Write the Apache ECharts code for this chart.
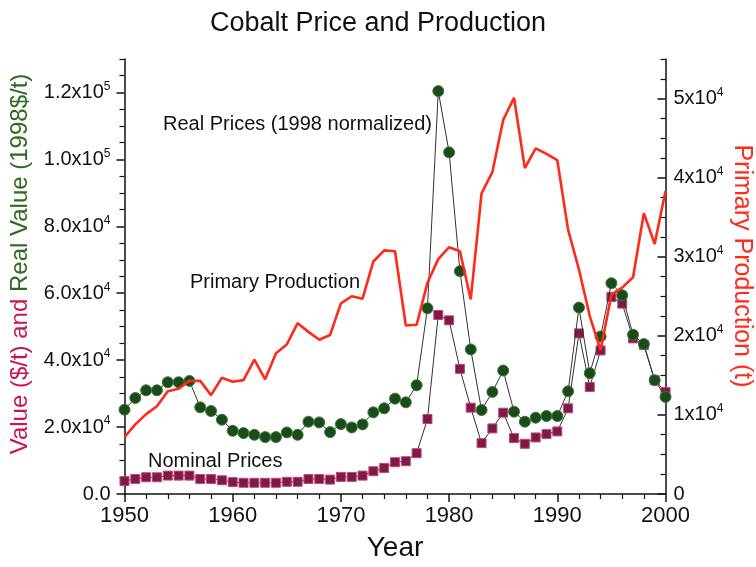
<!DOCTYPE html>
<html>
<head>
<meta charset="utf-8">
<script src="https://cdn.jsdelivr.net/npm/echarts@6/dist/echarts.min.js"></script>
<style>html,body{margin:0;padding:0;background:#fff}#c{width:756px;height:567px}</style>
</head>
<body>
<div id="c"></div>
<script>
const years = [];
for (let y = 1950; y <= 2000; y++) years.push(y);

const realPrices = [25200,28700,31000,31000,33400,33400,33800,25900,24800,22200,
  18900,18200,17700,17000,17000,18400,17700,21600,21400,18500,
  20900,19900,20800,24400,25600,28500,27400,32500,55500,120400,
  102100,66600,43200,25100,30500,36900,24600,21600,22800,23300,
  23300,30700,55700,36100,47100,63000,59400,47600,44800,34000,29000];

const nominalPrices = [3850,4500,5000,5000,5500,5500,5500,4500,4500,4100,
  3550,3350,3350,3350,3350,3650,3650,4500,4500,4300,
  5100,5100,5500,6800,7800,9500,9800,12200,22400,53500,
  51900,37400,25800,15200,19600,24300,16700,15000,16900,17900,
  18700,25600,48000,32000,42900,58900,56900,46500,44500,34000,30500];

const production = [7200,8800,10100,11100,13000,13300,14300,14300,12500,14700,
  14200,14400,17000,14500,17800,18900,21600,20500,19500,20100,
  24100,25000,24700,29400,30800,30700,21300,21400,26700,29700,
  31200,30700,24600,38000,40700,47300,50100,41200,43700,43000,
  42200,33400,28400,22500,18200,25200,26100,27400,35500,31600,38300];

const leftMajor = [0,20000,40000,60000,80000,100000,120000];
const leftMinor = [];
for (let v = 5000; v <= 130000; v += 5000) if (v % 20000 !== 0) leftMinor.push(v);
const rightMajor = [0,10000,20000,30000,40000,50000];
const rightMinor = [];
for (let v = 2500; v <= 55000; v += 2500) if (v % 10000 !== 0) rightMinor.push(v);

const FONT = 'Liberation Sans';
const chart = echarts.init(document.getElementById('c'), null, {renderer: 'canvas'});

function sci(v, dec) {
  if (v === 0) return dec ? '{a|0.0}' : '{a|0}';
  const e = Math.floor(Math.log10(v) + 1e-9);
  const m = v / Math.pow(10, e);
  return '{a|' + (dec ? m.toFixed(1) : String(Math.round(m))) + 'x10}{s|' + e + '}';
}
function richOf(size) {
  return {
    a: {fontSize: size, fontFamily: FONT, color: '#111', lineHeight: size + 4},
    s: {fontSize: Math.round(size * 0.62), fontFamily: FONT, color: '#111', verticalAlign: 'top', lineHeight: 12}
  };
}

const grid = {left: 124.5, right: 90.5, top: 59, bottom: 69};

const option = {
  animation: false,
  backgroundColor: '#fff',
  title: {
    text: 'Cobalt Price and Production',
    left: 'center', top: 5,
    textStyle: {fontFamily: FONT, fontSize: 27, fontWeight: 'normal', color: '#111'}
  },
  grid: grid,
  xAxis: {
    type: 'value', min: 1950, max: 2000, interval: 10,
    name: 'Year', nameLocation: 'middle', nameGap: 40,
    nameTextStyle: {fontFamily: FONT, fontSize: 28, color: '#111'},
    axisLine: {lineStyle: {color: '#111', width: 1.5}},
    axisTick: {length: 8, lineStyle: {color: '#111', width: 1.5}},
    minorTick: {show: true, splitNumber: 5, length: 5, lineStyle: {color: '#111', width: 1.2}},
    axisLabel: {fontFamily: FONT, fontSize: 22, color: '#111', margin: 11, formatter: v => String(v)},
    splitLine: {show: false}
  },
  yAxis: [
    {
      type: 'value', min: 0, max: 130000, position: 'left',
      axisLine: {show: true, lineStyle: {color: '#111', width: 1.5}},
      axisTick: {show: true, length: 8, customValues: leftMajor, lineStyle: {color: '#111', width: 1.5}},
      axisLabel: {customValues: leftMajor, margin: 14, formatter: v => sci(v, true), rich: richOf(20)},
      splitLine: {show: false}
    },
    {
      type: 'value', min: 0, max: 55000, position: 'right',
      axisLine: {show: true, lineStyle: {color: '#111', width: 1.5}},
      axisTick: {show: true, inside: true, length: 8, customValues: rightMajor, lineStyle: {color: '#111', width: 1.5}},
      axisLabel: {customValues: rightMajor, margin: 8, formatter: v => sci(v, false), rich: richOf(20)},
      splitLine: {show: false}
    },
    {
      type: 'value', min: 0, max: 130000, position: 'left',
      axisLine: {show: false},
      axisTick: {show: true, length: 5, customValues: leftMinor, lineStyle: {color: '#111', width: 1.2}},
      axisLabel: {show: false},
      splitLine: {show: false}
    },
    {
      type: 'value', min: 0, max: 55000, position: 'right',
      axisLine: {show: false},
      axisTick: {show: true, inside: true, length: 5, customValues: rightMinor, lineStyle: {color: '#111', width: 1.2}},
      axisLabel: {show: false},
      splitLine: {show: false}
    }
  ],
  series: [
    {
      name: 'Nominal Prices', type: 'line', yAxisIndex: 0,
      data: years.map((y, i) => [y, nominalPrices[i]]),
      symbol: 'rect', symbolSize: 9,
      lineStyle: {color: '#333', width: 1},
      itemStyle: {color: '#7d1a45', borderColor: '#c2447a', borderWidth: 1},
      z: 3
    },
    {
      name: 'Real Prices', type: 'line', yAxisIndex: 0,
      data: years.map((y, i) => [y, realPrices[i]]),
      symbol: 'circle', symbolSize: 11,
      lineStyle: {color: '#333', width: 1},
      itemStyle: {color: '#1b4a1b', borderColor: '#3b7a3b', borderWidth: 1},
      z: 4
    },
    {
      name: 'Primary Production', type: 'line', yAxisIndex: 1,
      data: years.map((y, i) => [y, production[i]]),
      symbol: 'none',
      lineStyle: {color: '#ff2a1a', width: 2.6},
      z: 5
    }
  ],
  graphic: [
    {type: 'text', left: 163, top: 114, z: 10,
      style: {text: 'Real Prices (1998 normalized)', fontFamily: FONT, fontSize: 20, fill: '#111'}},
    {type: 'text', left: 190, top: 272, z: 10,
      style: {text: 'Primary Production', fontFamily: FONT, fontSize: 20, fill: '#111'}},
    {type: 'text', left: 148, top: 451, z: 10,
      style: {text: 'Nominal Prices', fontFamily: FONT, fontSize: 20, fill: '#111'}},
    {type: 'text', x: 20, y: 264, rotation: Math.PI / 2, z: 10,
      style: {
        text: '{r|Value ($/t) and }{g|Real Value (1998$/t)}',
        align: 'center', verticalAlign: 'middle',
        rich: {
          r: {fontFamily: FONT, fontSize: 24, fill: '#c8174f'},
          g: {fontFamily: FONT, fontSize: 24, fill: '#2f6a1e'}
        }
      }},
    {type: 'text', x: 742, y: 266, rotation: -Math.PI / 2, z: 10,
      style: {text: 'Primary Production (t)', fontFamily: FONT, fontSize: 25, fill: '#ff2a1a',
        align: 'center', verticalAlign: 'middle'}}
  ]
};
chart.setOption(option);
</script>
</body>
</html>
